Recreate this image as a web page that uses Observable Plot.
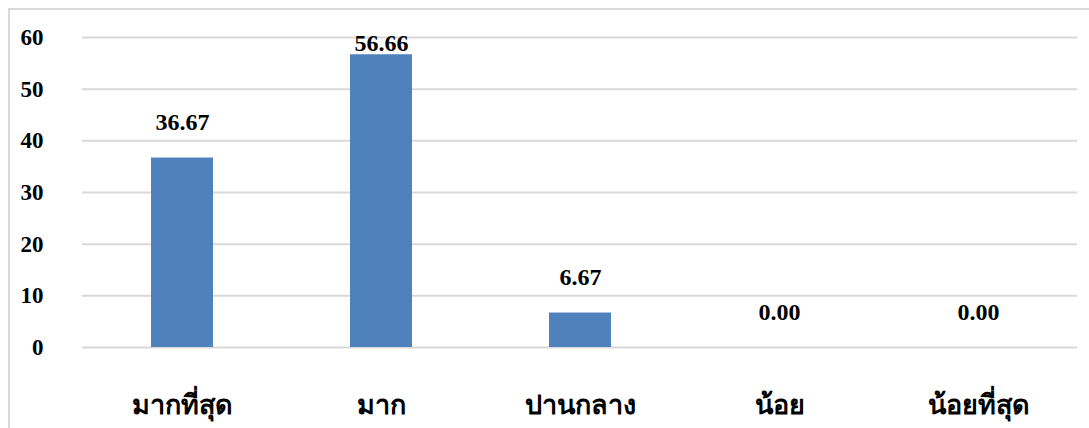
<!DOCTYPE html>
<html>
<head>
<meta charset="utf-8">
<script src="https://cdn.jsdelivr.net/npm/d3@7"></script>
<script src="https://cdn.jsdelivr.net/npm/@observablehq/plot@0.6"></script>
<style>
  html, body { margin: 0; padding: 0; background: #fff; overflow: hidden; }
  #frame { position: absolute; left: 8px; top: 8px; width: 1200px; height: 600px; border: 2px solid #d9d9d9; box-sizing: border-box; }
  #chart { position: absolute; left: 0; top: 0; }
</style>
</head>
<body>
<div id="frame"></div>
<div id="chart"></div>
<script>
const categories = ["มากที่สุด", "มาก", "ปานกลาง", "น้อย", "น้อยที่สุด"];
const values = [36.67, 56.66, 6.67, 0.00, 0.00];
const yTicks = [0, 10, 20, 30, 40, 50, 60];

const data = categories.map((c, i) => ({category: c, value: values[i]}));

const font = "'Liberation Serif', 'Times New Roman', serif";

const chart = Plot.plot({
  width: 1089,
  height: 428,
  marginLeft: 82,
  marginRight: 12,
  marginTop: 37,
  marginBottom: 81,
  style: {fontFamily: font, fontWeight: "bold", color: "#000", background: "transparent"},
  x: {domain: categories, paddingInner: 0.69, paddingOuter: 0.345, label: null},
  y: {domain: [0, 60], label: null},
  marks: [
    Plot.ruleY(yTicks, {stroke: "#d9d9d9", strokeWidth: 2}),
    Plot.barY(data, {x: "category", y: "value", fill: "#4F81BD"}),
    Plot.text(data, {
      x: "category",
      y: d => Math.min(d.value + 6.9, 58.9),
      text: d => d.value.toFixed(2),
      fontSize: 24,
      fontWeight: "bold",
      fill: "#000",
      lineAnchor: "middle"
    }),
    Plot.axisY(yTicks, {tickSize: 0, tickPadding: 39, fontSize: 23, fontWeight: "bold", label: null}),
    Plot.axisX({tickSize: 0, tickPadding: 47, fontSize: 27, fontWeight: "bold", label: null})
  ]
});
document.getElementById("chart").appendChild(chart);
</script>
</body>
</html>
